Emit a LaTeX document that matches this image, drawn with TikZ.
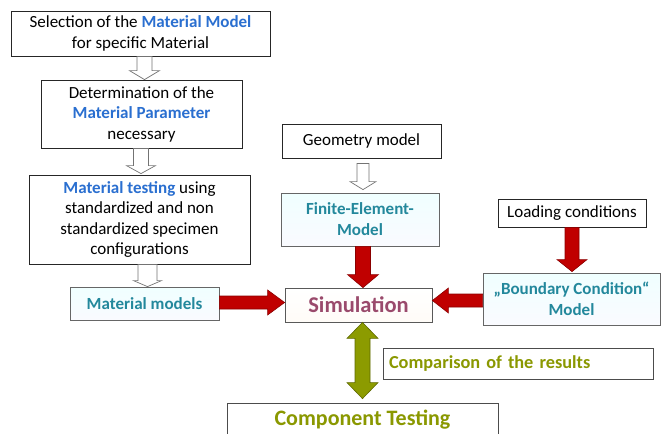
\documentclass[tikz,border=0pt]{standalone}
\usepackage{fontspec}
\setmainfont{Carlito}
\usetikzlibrary{calc,shadows}

\definecolor{mblue}{HTML}{2A6FD0}
\definecolor{mteal}{HTML}{23889C}
\definecolor{simtext}{HTML}{9A4A6C}
\definecolor{olivefill}{HTML}{8C9B00}
\definecolor{olivetext}{HTML}{8A9800}
\definecolor{olivedark}{HTML}{5E6800}
\definecolor{arrowred}{HTML}{C00000}
\definecolor{arrowredline}{HTML}{8A0000}

% block arrow: style, from, to, half shaft width, half head width, head length
\newcommand\blockarrow[6]{%
  \coordinate (ba-a) at #2;
  \coordinate (ba-b) at #3;
  \coordinate (ba-h) at ($(ba-b)!#6!(ba-a)$);
  \draw[#1] ($(ba-a)!#4!90:(ba-b)$) -- ($(ba-h)!#4!90:(ba-b)$)
    -- ($(ba-h)!#5!90:(ba-b)$) -- (ba-b) -- ($(ba-h)!#5!-90:(ba-b)$)
    -- ($(ba-h)!#4!-90:(ba-b)$) -- ($(ba-a)!#4!-90:(ba-b)$) -- cycle;
}
% double-headed block arrow: style, end 1, end 2, half shaft, half head, head length
\newcommand\doublearrow[6]{%
  \coordinate (da-a) at #2;
  \coordinate (da-b) at #3;
  \coordinate (da-h1) at ($(da-a)!#6!(da-b)$);
  \coordinate (da-h2) at ($(da-b)!#6!(da-a)$);
  \draw[#1] (da-a) -- ($(da-h1)!#5!90:(da-b)$) -- ($(da-h1)!#4!90:(da-b)$)
    -- ($(da-h2)!#4!-90:(da-a)$) -- ($(da-h2)!#5!-90:(da-a)$) -- (da-b)
    -- ($(da-h2)!#5!90:(da-a)$) -- ($(da-h2)!#4!90:(da-a)$)
    -- ($(da-h1)!#4!-90:(da-b)$) -- ($(da-h1)!#5!-90:(da-b)$) -- cycle;
}

\tikzset{
  base/.style={inner sep=0pt, align=center, line width=0.8pt},
  plainbox/.style={base, draw=black!85, fill=white,
    font=\fontsize{17}{20.5}\selectfont},
  tealbox/.style={base, draw=black!60, top color=cyan!6!white,
    bottom color=cyan!12!blue!2!white, text=mteal,
    font=\fontsize{17}{21}\selectfont\bfseries,
    drop shadow={opacity=0.25, shadow xshift=1.2pt, shadow yshift=-1.2pt}},
  simbox/.style={base, draw=black!65, top color=white,
    bottom color=yellow!8!orange!3!white, text=simtext,
    font=\fontsize{22.5}{26}\selectfont\bfseries,
    drop shadow={opacity=0.25, shadow xshift=1.2pt, shadow yshift=-1.2pt}},
  olivebox/.style={base, draw=black!70, fill=white, text=olivetext},
  hollow/.style={draw=black!55, fill=white, line width=0.7pt, line join=miter},
  redarrow/.style={draw=arrowredline, fill=arrowred, line width=0.6pt, line join=miter},
  greenarrow/.style={draw=olivedark, fill=olivefill, line width=0.6pt, line join=miter},
}

\begin{document}
\begin{tikzpicture}[x=1pt, y=-1pt]
\useasboundingbox (0,0) rectangle (662,434);

% material chain on the left
\node[plainbox, minimum width=259pt, minimum height=45pt] (b1) at (140.5,33.5)
  {Selection of the \textcolor{mblue}{\bfseries Material Model}\\ for specific Material};
\node[plainbox, minimum width=201pt, minimum height=68pt] (b2) at (141.5,114)
  {Determination of the\\ \textcolor{mblue}{\bfseries Material Parameter}\\ necessary};
\node[plainbox, minimum width=221pt, minimum height=89pt] (b3) at (139.5,219.5)
  {\textcolor{mblue}{\bfseries Material testing} using\\ standardized and non\\ standardized specimen\\ configurations};
\node[tealbox, minimum width=149pt, minimum height=33pt] (mm) at (144.5,303.5)
  {Material models};

% centre column
\node[plainbox, minimum width=159pt, minimum height=34pt] (geo) at (361.5,141)
  {Geometry model};
\node[tealbox, minimum width=158pt, minimum height=53pt] (fe) at (360,219.5)
  {Finite-Element-\\ Model};
\node[simbox, minimum width=147pt, minimum height=34pt] (sim) at (358.5,305)
  {Simulation};

% right column
\node[plainbox, minimum width=148pt, minimum height=28pt] (load) at (572,213)
  {Loading conditions};
\node[tealbox, minimum width=177pt, minimum height=52pt] (bc) at (571.5,299)
  {„Boundary Condition“\\ Model};

% comparison
\node[olivebox, minimum width=270pt, minimum height=31pt, text width=258pt,
  align=left, font=\fontsize{18.3}{22}\selectfont\bfseries] (cmp) at (518,363.5)
  {Comparison of the results};
\node[olivebox, minimum width=271pt, minimum height=34pt,
  font=\fontsize{22}{26}\selectfont\bfseries] (ct) at (362.5,420)
  {Component Testing};

% hollow arrows
\coordinate (p1) at ($(b1.south)+(4,0)$);
\blockarrow{hollow}{(p1)}{(p1 |- b2.north)}{7.5pt}{15pt}{9pt}
\coordinate (p2) at ($(b2.south)+(-0.5,0)$);
\blockarrow{hollow}{(p2)}{($(p2 |- b3.north)+(0,-1)$)}{7.5pt}{14.5pt}{8pt}
\coordinate (p3) at ($(b3.south)+(8,0)$);
\blockarrow{hollow}{(p3)}{(p3 |- mm.north)}{9.5pt}{14pt}{6pt}
\coordinate (p4) at ($(geo.south)+(1.5,5)$);
\blockarrow{hollow}{(p4)}{($(p4 |- fe.north)+(0,-3)$)}{6pt}{13pt}{8pt}

% red arrows into the simulation
\coordinate (r1) at ($(mm.east)+(0,-1)$);
\blockarrow{redarrow}{(r1)}{(r1 -| sim.west)}{6.5pt}{12.5pt}{17pt}
\coordinate (r2) at ($(fe.south)+(3,0)$);
\blockarrow{redarrow}{(r2)}{(r2 |- sim.north)}{7.5pt}{15.5pt}{13pt}
\coordinate (r3) at ($(bc.west)+(0,1.5)$);
\blockarrow{redarrow}{(r3)}{(r3 -| sim.east)}{6.5pt}{12.5pt}{16pt}
\blockarrow{redarrow}{(load.south)}{($(load.south |- bc.north)+(0,-1)$)}{7pt}{15pt}{12pt}

% comparison arrow between simulation and component testing
\coordinate (g1) at ($(sim.south)+(4,0)$);
\doublearrow{greenarrow}{(g1)}{($(g1 |- ct.north)+(0,-4)$)}{7.5pt}{15.5pt}{16pt}

\end{tikzpicture}
\end{document}
